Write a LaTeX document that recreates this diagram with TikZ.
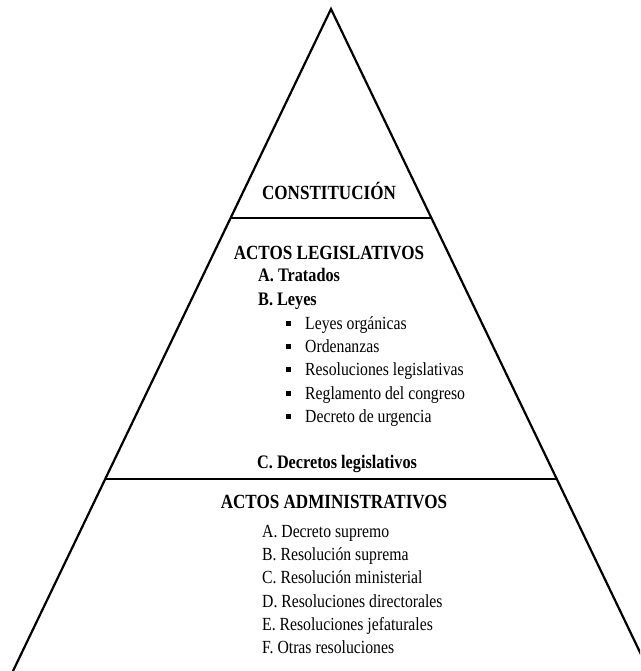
\documentclass[tikz,border=0pt]{standalone}
\usepackage{fontspec}
\setmainfont{Liberation Serif}[FakeStretch=0.85]
\usepackage{tikz}
\usetikzlibrary{positioning, calc}

\tikzset{
    edge/.style = {line width = 2.2pt, black},
    heading/.style = {font = \bfseries\fontsize{20.1}{23}\selectfont, inner sep = 0pt},
    subitem/.style = {font = \bfseries\fontsize{19.1}{22}\selectfont, anchor = base west, inner sep = 0pt},
    item/.style = {font = \fontsize{18.5}{22}\selectfont, anchor = base west, inner sep = 0pt},
    bullet/.style = {fill, rectangle, minimum size = 5pt, inner sep = 0pt}
}

\begin{document}
\begin{tikzpicture}[x = 1pt, y = -1pt]
        \useasboundingbox (0,0) rectangle (640,671);
        \clip (0,0) rectangle (640,671);
        % outline of the pyramid
        \coordinate (apex) at (331,9);
        \coordinate (bl) at (13,671);
        \coordinate (br) at (649,671);
        \draw [edge, line join = miter] ($(apex)!1.05!(bl)$) -- (apex) -- ($(apex)!1.05!(br)$);
        \draw [edge] ($(apex)!0.3157!(bl)$) -- ($(apex)!0.3157!(br)$);
        \draw [edge] ($(apex)!0.7100!(bl)$) -- ($(apex)!0.7100!(br)$);
        % top level
        \node [heading, anchor = base] (const) at (329,199) {CONSTITUCIÓN};
        % middle level
        \node [heading, anchor = base] (leg) at (329,259) {ACTOS LEGISLATIVOS};
        \node [subitem] (tratados) at (258,281) {A. Tratados};
        \node [subitem] (leyes) at (258,305) {B. Leyes};
        \node [item] (ley1) at (305,329) {Leyes orgánicas};
        \node [item] (ley2) at (305,352) {Ordenanzas};
        \node [item] (ley3) at (305,375.5) {Resoluciones legislativas};
        \node [item] (ley4) at (305,399) {Reglamento del congreso};
        \node [item] (ley5) at (305,422) {Decreto de urgencia};
        \node [bullet] (b1) at (288,323) {};
        \node [bullet] (b2) at (288,346) {};
        \node [bullet] (b3) at (288,369.5) {};
        \node [bullet] (b4) at (288,393) {};
        \node [bullet] (b5) at (288,416) {};
        \node [subitem] (declegis) at (257,468) {C. Decretos legislativos};
        % bottom level
        \node [heading, anchor = base] (adm) at (334,508) {ACTOS ADMINISTRATIVOS};
        \node [item] (adm1) at (262,537) {A. Decreto supremo};
        \node [item] (adm2) at (262,560) {B. Resolución suprema};
        \node [item] (adm3) at (262,583) {C. Resolución ministerial};
        \node [item] (adm4) at (262,607) {D. Resoluciones directorales};
        \node [item] (adm5) at (262,630) {E. Resoluciones jefaturales};
        \node [item] (adm6) at (262,653) {F. Otras resoluciones};
    \end{tikzpicture}
\end{document}
